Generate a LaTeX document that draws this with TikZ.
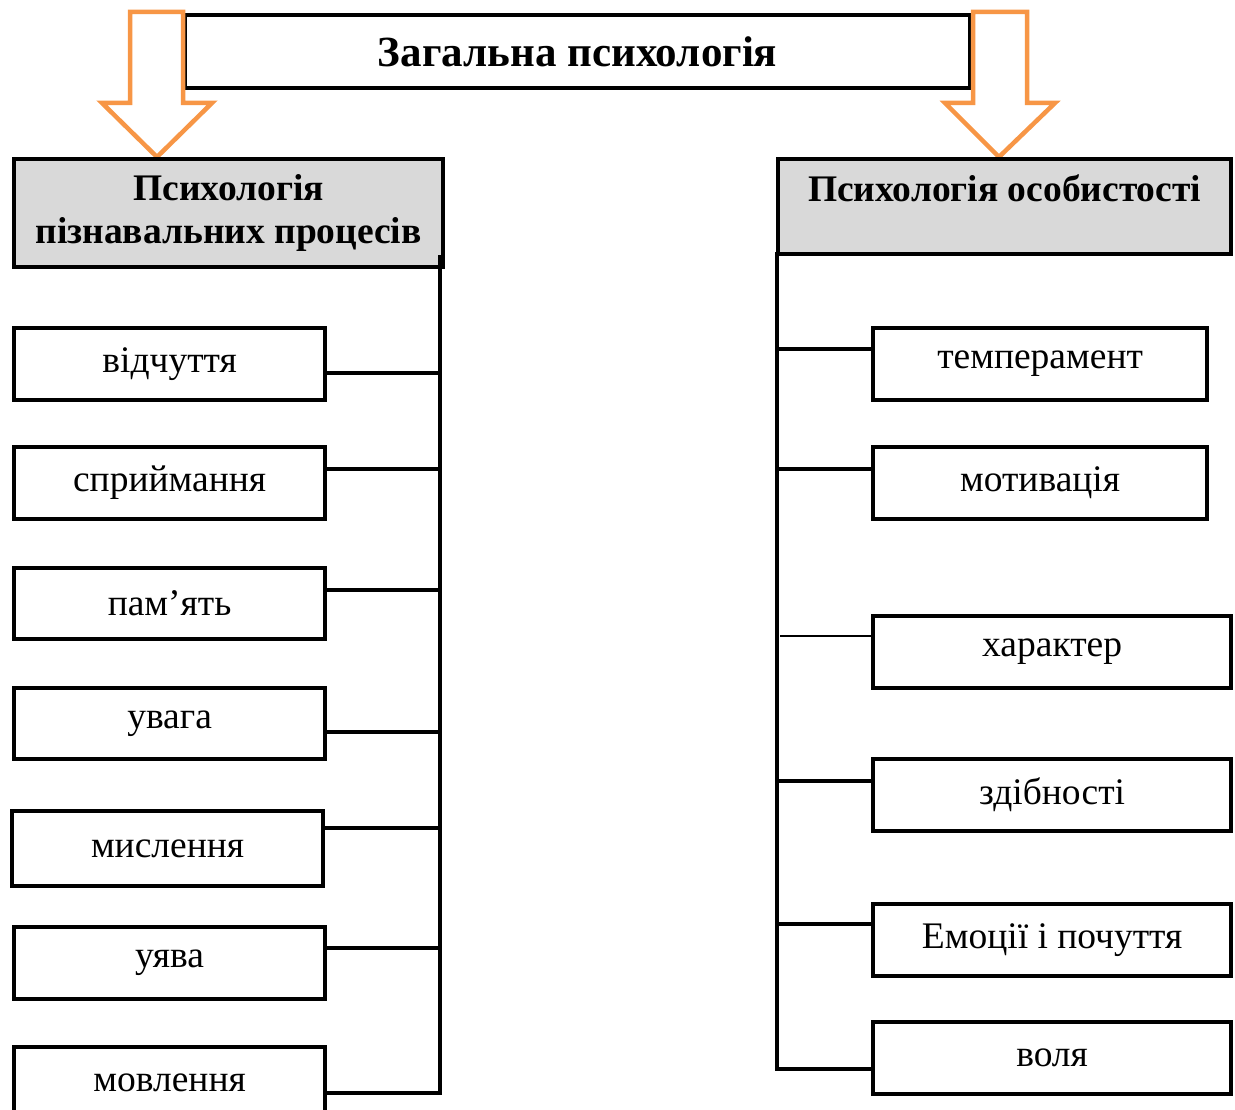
\documentclass[tikz,border=0pt]{standalone}
\usepackage{fontspec}
\setmainfont{Liberation Serif}
\definecolor{arrorange}{HTML}{F79646}
\definecolor{hdrgray}{HTML}{D9D9D9}
\tikzset{
  box/.style={draw=black, line width=4.2pt, fill=white, inner sep=0pt, anchor=north west,
    font=\fontsize{37.5}{44}\selectfont},
  hdr/.style={box, fill=hdrgray, align=center, font=\fontsize{37.5}{43}\selectfont\bfseries},
  conn/.style={draw=black, line width=4.2pt},
  thinconn/.style={draw=black, line width=1.4pt},
  bigarrow/.style={draw=arrorange, line width=4.5pt, fill=white, line join=miter},
}
\begin{document}
\begin{tikzpicture}[x=1pt, y=-1pt]
\useasboundingbox (0,0) rectangle (1235,1110);
\clip (0,0) rectangle (1235,1110);

% title
\node[box, minimum width=785pt, minimum height=73pt, font=\fontsize{43}{48}\selectfont\bfseries] (title) at (183,13) {Загальна психологія};

% arrows
\draw[bigarrow] (130,12) -- (183,12) -- (183,103) -- (212,103) -- (157,157) -- (102,103) -- (130,103) -- cycle;
\draw[bigarrow] (973,12) -- (1027,12) -- (1027,103) -- (1055,103) -- (999,157) -- (945,103) -- (973,103) -- cycle;

% headers
\node[hdr, minimum width=429pt, minimum height=108pt] (hl) at (12,157) {Психологія\\пізнавальних процесів};
\node[hdr, minimum width=453pt, minimum height=95pt] (hr) at (776,157) {Психологія особистості\\[-6pt]~};

% trunks
\coordinate (tl) at (440,255);
\coordinate (tr) at (777,252);

% left boxes
\node[box, minimum width=311pt, minimum height=72pt] (l1) at (12,326) {відчуття};
\node[box, minimum width=311pt, minimum height=72pt] (l2) at (12,445) {сприймання};
\node[box, minimum width=311pt, minimum height=71pt] (l3) at (12,566) {пам’ять};
\node[box, minimum width=311pt, minimum height=71pt] (l4) at (12,686) {увага};
\node[box, minimum width=311pt, minimum height=75pt] (l5) at (10,809) {мислення};
\node[box, minimum width=311pt, minimum height=72pt] (l6) at (12,925) {уява};
\node[box, minimum width=311pt, minimum height=72pt] (l7) at (12,1045) {мовлення};

% right boxes
\node[box, minimum width=334pt, minimum height=72pt] (r1) at (871,326) {темперамент};
\node[box, minimum width=334pt, minimum height=72pt] (r2) at (871,445) {мотивація};
\node[box, minimum width=358pt, minimum height=72pt] (r3) at (871,614) {характер};
\node[box, minimum width=358pt, minimum height=72pt] (r4) at (871,757) {здібності};
\node[box, minimum width=358pt, minimum height=72pt] (r5) at (871,902) {Емоції і почуття};
\node[box, minimum width=358pt, minimum height=72pt] (r6) at (871,1020) {воля};

% left connectors
\draw[conn] (tl) -- (tl |- 0,1093) -- (l7.east |- 0,1093);
\draw[conn] (l1.east |- 0,373) -- (tl |- 0,373);
\draw[conn] (l2.east |- 0,469) -- (tl |- 0,469);
\draw[conn] (l3.east |- 0,590) -- (tl |- 0,590);
\draw[conn] (l4.east |- 0,732) -- (tl |- 0,732);
\draw[conn] (l5.east |- 0,828) -- (tl |- 0,828);
\draw[conn] (l6.east |- 0,948) -- (tl |- 0,948);

% right connectors
\draw[conn] (tr) -- (tr |- 0,1069) -- (r6.west |- 0,1069);
\draw[conn] (tr |- 0,349) -- (r1.west |- 0,349);
\draw[conn] (tr |- 0,469) -- (r2.west |- 0,469);
\draw[thinconn] ([xshift=3pt]tr |- 0,636) -- (r3.west |- 0,636);
\draw[conn] (tr |- 0,781) -- (r4.west |- 0,781);
\draw[conn] (tr |- 0,924) -- (r5.west |- 0,924);
\end{tikzpicture}
\end{document}
